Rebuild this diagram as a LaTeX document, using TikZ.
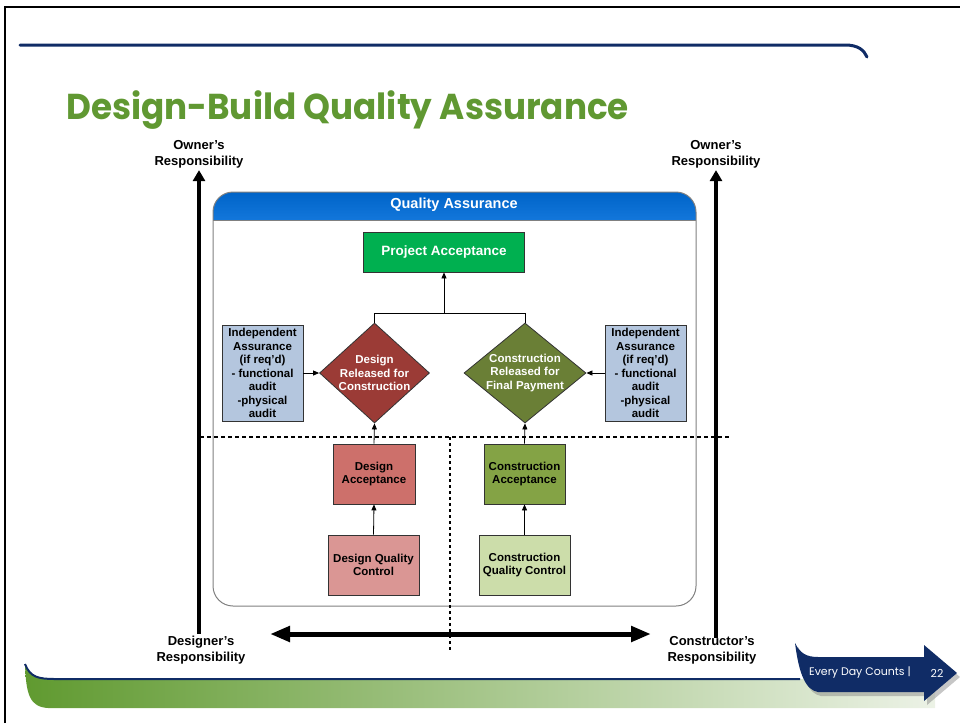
\documentclass[tikz,border=0pt]{standalone}
\usepackage{fontspec}
\setmainfont{Liberation Sans}
\newfontfamily\titlefont{Poppins}
\usetikzlibrary{shapes.geometric, arrows.meta, positioning, calc, shadows}
\definecolor{titlegreen}{RGB}{96,152,50}
\definecolor{navy1}{RGB}{16,44,102}
\definecolor{qablue}{RGB}{0,100,200}
\definecolor{qablue2}{RGB}{45,145,245}
\definecolor{paGreen}{RGB}{0,176,80}
\definecolor{ddRed}{RGB}{155,59,54}
\definecolor{cdOlive}{RGB}{106,127,54}
\definecolor{iaBlue}{RGB}{180,198,222}
\definecolor{daRed}{RGB}{205,112,107}
\definecolor{caGreen}{RGB}{132,163,69}
\definecolor{dqcPink}{RGB}{218,150,148}
\definecolor{cqcGreen}{RGB}{204,221,170}
\definecolor{bandgreen}{RGB}{96,154,48}
\definecolor{bandlight}{RGB}{236,242,230}

\begin{document}
\begin{tikzpicture}[x=1pt, y=-1pt,
  box/.style={draw=black!80, line width=0.8pt, align=center, inner sep=2pt,
    font=\bfseries\fontsize{11.5}{13.5}\selectfont},
  decision/.style={diamond, draw=black!80, line width=0.8pt, aspect=1.12, inner sep=-4pt,
    minimum width=110pt, minimum height=100pt, align=center, text=white,
    font=\bfseries\fontsize{11.5}{13.5}\selectfont},
  flow/.style={-{Triangle[length=6pt,width=5pt]}, line width=0.8pt},
  respons/.style={align=center, inner sep=2pt, font=\bfseries\fontsize{13}{16}\selectfont},
  bigarrow/.style={line width=3.5pt, -{Triangle[length=11pt,width=12pt]}},
  divider/.style={line width=1.8pt, dash pattern=on 4pt off 3pt}]
  \useasboundingbox (0,0) rectangle (960,723);

  % slide frame and title
  \draw[line width=2pt] (5,723) -- (5,7) -- (960,7);
  \draw[navy1, line width=3pt, line cap=round] (20,45) -- (845,45) .. controls (858,45) and (864,50) .. (867,57);
  \node[anchor=base west, inner sep=0pt, text=titlegreen, font=\titlefont\bfseries\fontsize{36}{40}\selectfont] (title) at (66,119)
    {\scalebox{0.95}[1]{Design-Build Quality Assurance}};

  % quality assurance panel
  \begin{scope}
    \clip (213,192) rectangle (696,220);
    \shade[top color=qablue, bottom color=qablue2, rounded corners=20pt] (213,192) rectangle (696,260);
  \end{scope}
  \draw[gray, line width=0.8pt] (213,220) -- (696,220);
  \draw[gray, line width=1pt, rounded corners=20pt] (213,192) rectangle (696,606);
  \node[text=white, font=\bfseries\fontsize{14.5}{17}\selectfont] (qahead) at (454,205) {Quality Assurance};

  % boxes
  \node[box, fill=paGreen, text=white, minimum width=161pt, minimum height=40pt,
    font=\bfseries\fontsize{13.5}{16}\selectfont] (pa) at (444,252) {Project Acceptance};
  \node[decision, fill=ddRed] (dd) at (374.5,373) {Design\\Released for\\Construction};
  \node[decision, fill=cdOlive, minimum width=122pt] (cd) at (525,373) {Construction\\Released for\\Final Payment};
  \node[box, fill=iaBlue, minimum width=81pt, minimum height=96pt] (ial) at (262.5,373)
    {Independent\\Assurance\\(if req’d)\\- functional\\audit\\-physical\\audit};
  \node[box, fill=iaBlue, minimum width=81pt, minimum height=96pt] (iar) at (645.5,373)
    {Independent\\Assurance\\(if req’d)\\- functional\\audit\\-physical\\audit};
  \node[box, fill=daRed, minimum width=82pt, minimum height=60pt] (da) at (374,474) {Design\\Acceptance};
  \node[box, fill=caGreen, minimum width=81pt, minimum height=60pt] (ca) at (524.5,474) {Construction\\Acceptance};
  \node[box, fill=dqcPink, minimum width=91pt, minimum height=60pt] (dqc) at (373.5,565) {Design Quality\\Control};
  \node[box, fill=cqcGreen, minimum width=91pt, minimum height=60pt] (cqc) at (524.5,565) {Construction\\Quality Control};

  % connectors
  \draw[flow] (dqc.north) -- (da.south);
  \draw[flow] (cqc.north) -- (ca.south);
  \draw[flow] (da.north) -- (dd.south);
  \draw[flow] (ca.north) -- (cd.south);
  \draw[flow] (ial.east) -- (dd.west);
  \draw[flow] (iar.west) -- (cd.east);
  \coordinate (join) at ($(pa.south |- dd.north)+(0,-9)$);
  \draw[line width=0.8pt] (dd.north) |- (join) -| (cd.north);
  \draw[flow] (join) -- (pa.south);

  % responsibility axes
  \node[respons] (ownL) at (199,154) {Owner’s\\Responsibility};
  \node[respons] (ownR) at (716,154) {Owner’s\\Responsibility};
  \node[respons] (desL) at (201,650) {Designer’s\\Responsibility};
  \node[respons] (conR) at (712,650) {Constructor’s\\Responsibility};
  \draw[bigarrow, {Triangle[length=11pt,width=12pt]}-] (ownL.south) -- (ownL.south |- desL.north);
  \draw[bigarrow, {Triangle[length=11pt,width=12pt]}-, shorten >=-4pt] (ownR.south) -- (ownR.south |- conR.north);
  \coordinate (hl) at (270,634);
  \coordinate (hr) at (651,634);
  \draw[line width=5pt, {Triangle[length=20pt,width=15pt]}-{Triangle[length=20pt,width=15pt]}] (hl) -- (hr);

  % dividers
  \coordinate (dashL) at (200,437);
  \coordinate (dashR) at (731,437);
  \coordinate (dotT) at (450,437);
  \coordinate (dotB) at (450,650);
  \draw[divider] (dashL) -- (dashR);
  \draw[divider, line width=2.2pt, dash pattern=on 3pt off 3pt] (dotT) -- (dotB);

  % footer
  \shade[left color=bandgreen, right color=bandlight] (25,664) .. controls (30,677) and (38,679) .. (55,679)
    -- (935,679) -- (935,708) -- (48,708) .. controls (30,707) and (26,695) .. (25,664) -- cycle;
  \draw[navy1, line width=2pt] (25,664) .. controls (30,677) and (38,679) .. (55,679) -- (800,679);
  \fill[navy1, drop shadow={shadow xshift=3pt, shadow yshift=-4pt, opacity=0.45}]
    (795,643) .. controls (800,653) and (806,657) .. (818,657) -- (924,657) -- (924,645) -- (957,673)
    -- (924,701) -- (924,692) -- (818,692) .. controls (806,690) and (799,675) .. (795,643) -- cycle;
  \node[text=white, font=\titlefont\fontsize{11}{13}\selectfont] (edc) at (860,673) {Every Day Counts |};
  \node[text=white, font=\titlefont\fontsize{11}{13}\selectfont] (pgno) at (937,673) {22};
\end{tikzpicture}
\end{document}
